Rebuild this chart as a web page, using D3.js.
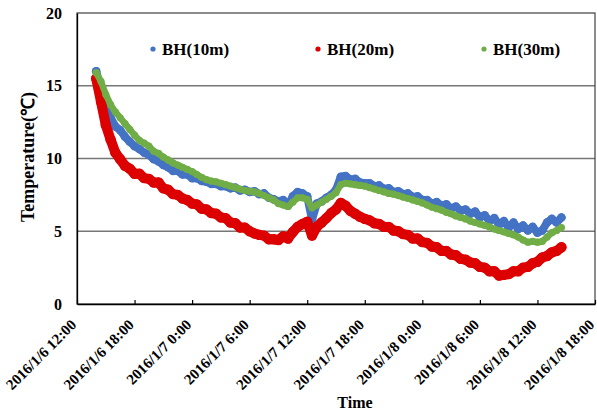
<!DOCTYPE html>
<html>
<head>
<meta charset="utf-8">
<script src="https://cdn.jsdelivr.net/npm/d3@7"></script>
<style>
  html, body { margin: 0; padding: 0; background: #fff; }
  svg { display: block; }
  text { font-family: "Liberation Serif", "Times New Roman", serif; font-weight: bold; fill: #000; }
</style>
</head>
<body>
<svg id="chart" width="597" height="412"></svg>
<script>
// ---------------- data ----------------
const startTime = "2016/1/6 12:00";
// hours elapsed since 2016/1/6 12:00
const hours = [
  2.0, 2.5, 3.0, 3.5, 4.0, 4.5, 5.0, 5.5, 6.0, 6.5,
  7.0, 7.5, 8.0, 8.5, 9.0, 9.5, 10.0, 10.5, 11.0, 11.5,
  12.0, 12.5, 13.0, 13.5, 14.0, 14.5, 15.0, 15.5, 16.0, 16.5,
  17.0, 17.5, 18.0, 18.5, 19.0, 19.5, 20.0, 20.5, 21.0, 21.5,
  22.0, 22.5, 23.0, 23.5, 24.0, 24.5, 25.0, 25.5, 26.0, 26.5,
  27.0, 27.5, 28.0, 28.5, 29.0, 29.5, 30.0, 30.5, 31.0, 31.5,
  32.0, 32.5, 33.0, 33.5, 34.0, 34.5, 35.0, 35.5, 36.0, 36.5,
  37.0, 37.5, 38.0, 38.5, 39.0, 39.5, 40.0, 40.5, 41.0, 41.5,
  42.0, 42.5, 43.0, 43.5, 44.0, 44.5, 45.0, 45.5, 46.0, 46.5,
  47.0, 47.5, 48.0, 48.5, 49.0, 49.5, 50.0, 50.5
];
const bh10 = [
  16.0, 14.7, 13.4, 12.8, 12.2, 11.95, 11.5, 11.15, 10.85, 10.65,
  10.4, 10.25, 9.95, 9.8, 9.55, 9.4, 9.15, 9.15, 8.9, 8.9,
  8.65, 8.65, 8.45, 8.4, 8.25, 8.25, 8.1, 8.1, 7.95, 8.0,
  7.8, 7.85, 7.7, 7.75, 7.55, 7.6, 7.3, 7.2, 7.05, 7.15,
  6.75, 7.4, 7.7, 7.6, 7.4, 5.8, 6.9, 7.05, 7.3, 7.5,
  7.85, 8.75, 8.8, 8.55, 8.6, 8.35, 8.3, 8.3, 8.1, 8.15,
  7.9, 7.95, 7.7, 7.75, 7.55, 7.6, 7.35, 7.4, 7.15, 7.15,
  6.9, 7.0, 6.75, 6.85, 6.55, 6.7, 6.4, 6.5, 6.2, 6.35,
  5.95, 6.1, 5.7, 5.9, 5.45, 5.7, 5.25, 5.6, 5.15, 5.4,
  5.05, 5.3, 4.9, 5.05, 5.6, 5.85, 5.6, 5.95
];
const bh20 = [
  15.5, 13.9, 12.3, 11.3, 10.4, 9.95, 9.5, 9.3, 8.95, 8.95,
  8.65, 8.6, 8.35, 8.35, 7.95, 7.85, 7.55, 7.5, 7.25, 7.15,
  6.9, 6.85, 6.55, 6.5, 6.25, 6.2, 5.95, 5.9, 5.6, 5.55,
  5.25, 5.25, 5.0, 4.85, 4.75, 4.7, 4.45, 4.45, 4.4, 4.65,
  4.5, 4.95, 5.3, 5.5, 5.65, 4.7, 5.3, 5.6, 5.9, 6.25,
  6.5, 6.95, 6.75, 6.4, 6.2, 6.0, 5.85, 5.75, 5.55, 5.5,
  5.3, 5.3, 5.05, 5.0, 4.8, 4.75, 4.5, 4.5, 4.25, 4.2,
  3.95, 3.9, 3.65, 3.65, 3.4, 3.35, 3.1, 3.05, 2.85, 2.8,
  2.55, 2.5, 2.25, 2.25, 1.95, 2.0, 2.05, 2.25, 2.25, 2.5,
  2.55, 2.8, 2.9, 3.2, 3.3, 3.55, 3.65, 3.9
];
const bh30 = [
  15.9, 15.3, 14.4, 13.7, 13.2, 12.8, 12.4, 12.0, 11.6, 11.25,
  11.05, 10.85, 10.5, 10.35, 10.1, 9.9, 9.7, 9.55, 9.4, 9.25,
  9.1, 8.9, 8.7, 8.55, 8.45, 8.4, 8.3, 8.2, 8.1, 8.0,
  7.9, 7.8, 7.75, 7.7, 7.6, 7.45, 7.3, 7.15, 6.9, 6.8,
  6.7, 7.0, 7.3, 7.3, 7.2, 6.6, 6.8, 7.0, 7.2, 7.4,
  7.65, 8.2, 8.3, 8.25, 8.2, 8.15, 8.1, 8.0, 7.9, 7.8,
  7.7, 7.6, 7.55, 7.45, 7.35, 7.25, 7.15, 7.05, 6.95, 6.8,
  6.65, 6.55, 6.45, 6.3, 6.2, 6.05, 5.95, 5.85, 5.7, 5.6,
  5.5, 5.4, 5.3, 5.15, 5.05, 4.95, 4.85, 4.75, 4.6, 4.4,
  4.25, 4.3, 4.25, 4.3, 4.6, 4.9, 5.05, 5.25
];
const seriesNames = ["BH(10m)", "BH(20m)", "BH(30m)"];
const xTickLabels = [
  "2016/1/6 12:00", "2016/1/6 18:00", "2016/1/7 0:00", "2016/1/7 6:00",
  "2016/1/7 12:00", "2016/1/7 18:00", "2016/1/8 0:00", "2016/1/8 6:00",
  "2016/1/8 12:00", "2016/1/8 18:00"
];
const yTicks = [0, 5, 10, 15, 20];
const yTitle = "Temperature(℃)";
const xTitle = "Time";

// ---------------- chart ----------------
const parse = d3.timeParse("%Y/%m/%d %H:%M");
const t0 = parse(startTime);
const toDate = h => new Date(t0.getTime() + h * 3600 * 1000);
const tickDates = xTickLabels.map(parse);

const L = 77, R = 595, T = 13, B = 304;
const svg = d3.select("#chart");

const x = d3.scaleTime().domain([tickDates[0], tickDates[tickDates.length - 1]]).range([L, R]);
const y = d3.scaleLinear().domain([0, 20]).range([B, T]);

// gridlines
svg.append("g").selectAll("line").data(yTicks.filter(v => v > 0 && v < 20)).join("line")
  .attr("x1", L).attr("x2", R).attr("y1", d => y(d)).attr("y2", d => y(d))
  .attr("stroke", "#777").attr("stroke-width", 1.3);

// frame
svg.append("rect").attr("x", L).attr("y", T).attr("width", R - L).attr("height", B - T)
  .attr("fill", "none").attr("stroke", "#404040").attr("stroke-width", 1.2);

// series
const series = [
  { name: seriesNames[0], vals: bh10, color: "#4472C4", w: 8, r: 4.3 },
  { name: seriesNames[1], vals: bh20, color: "#DD0000", w: 10, r: 5.2 },
  { name: seriesNames[2], vals: bh30, color: "#70AD47", w: 6.5, r: 3.6 }
];
const line = d3.line().x(d => x(d.t)).y(d => y(d.v)).curve(d3.curveLinear);
series.forEach(s => {
  const pts = hours.map((h, i) => ({ t: toDate(h), v: s.vals[i] })).filter(d => d.v != null);
  const g = svg.append("g");
  g.append("path").datum(pts).attr("d", line)
    .attr("fill", "none").attr("stroke", s.color).attr("stroke-width", s.w)
    .attr("stroke-linejoin", "round").attr("stroke-linecap", "round");
  g.selectAll("circle").data(pts).join("circle")
    .attr("cx", d => x(d.t)).attr("cy", d => y(d.v)).attr("r", s.r)
    .attr("fill", s.color);
});

// x axis
const xAxis = d3.axisBottom(x).tickValues(tickDates)
  .tickSizeInner(-4).tickSizeOuter(0)
  .tickFormat((d, i) => xTickLabels[i]);
const gx = svg.append("g").attr("transform", `translate(0,${B})`).call(xAxis);
gx.select(".domain").attr("stroke", "#000").attr("stroke-width", 1.3);
gx.selectAll(".tick line").attr("stroke", "#000").attr("stroke-width", 1.2);
gx.selectAll(".tick text")
  .attr("x", 0).attr("y", 0).attr("dy", "0.35em")
  .attr("text-anchor", "end")
  .attr("transform", "translate(-4,18) rotate(-45)")
  .style("font-family", '"Liberation Serif", serif').style("font-weight", "bold")
  .style("font-size", "15px").attr("fill", "#000");

// y axis
const yAxis = d3.axisLeft(y).tickValues(yTicks).tickSize(0).tickPadding(15);
const gy = svg.append("g").attr("transform", `translate(${L},0)`).call(yAxis);
gy.select(".domain").attr("stroke", "#000").attr("stroke-width", 1.3);
gy.selectAll(".tick text")
  .style("font-family", '"Liberation Serif", serif').style("font-weight", "bold")
  .style("font-size", "16px").attr("fill", "#000");

// axis titles
svg.append("text").attr("x", 355).attr("y", 408).attr("text-anchor", "middle")
  .style("font-size", "16px").text(xTitle);
svg.append("text").attr("transform", "translate(34,157) rotate(-90)").attr("text-anchor", "middle")
  .style("font-size", "18px").text(yTitle);

// legend
const legendX = [153, 318, 484];
const lg = svg.append("g");
series.forEach((s, i) => {
  lg.append("circle").attr("cx", legendX[i]).attr("cy", 49).attr("r", 2.6).attr("fill", s.color);
  lg.append("text").attr("x", legendX[i] + 9).attr("y", 54.5)
    .style("font-size", "17px").text(s.name);
});
</script>
</body>
</html>
